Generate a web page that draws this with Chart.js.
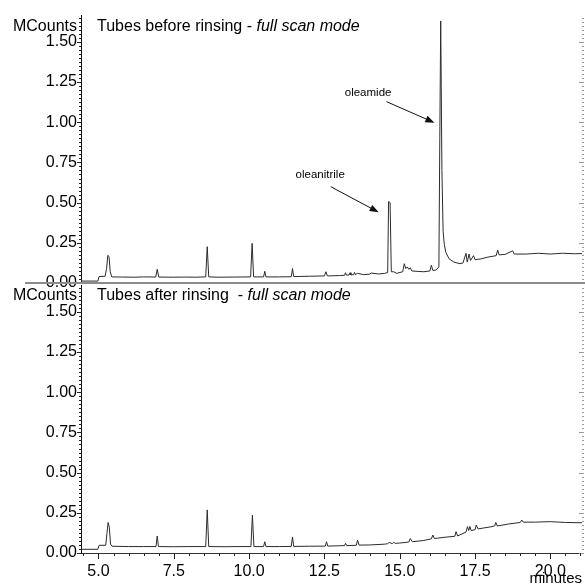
<!DOCTYPE html>
<html>
<head>
<meta charset="utf-8">
<script src="https://cdn.jsdelivr.net/npm/chart.js@4.4.1/dist/chart.umd.min.js"></script>
<style>
  html, body { margin: 0; padding: 0; background: #fff; }
  #wrap { position: relative; width: 585px; height: 585px; overflow: hidden; background: #fff; }
  #wrap canvas { position: absolute; left: 0; }
  #topChart { top: 0; }
  #bottomChart { top: 270px; }
</style>
</head>
<body>
<div id="wrap">
  <canvas id="topChart" width="585" height="300"></canvas>
  <canvas id="bottomChart" width="585" height="315"></canvas>
</div>
<script>
// retention time (minutes) / signal (MCounts)
const beforeTime = [
  4.42, 4.98, 5.02, 5.22, 5.27, 5.31, 5.35, 5.39, 5.44, 5.8,
  6.2, 6.5, 6.9, 6.95, 7.0, 7.5, 7.9, 8.2, 8.56, 8.61,
  8.66, 9.0, 9.5, 10.05, 10.1, 10.15, 10.48, 10.52, 10.56, 11.0,
  11.4, 11.44, 11.48, 12.0, 12.5, 12.55, 12.6, 13.0, 13.17, 13.2,
  13.23, 13.32, 13.35, 13.38, 13.47, 13.5, 13.53, 13.6, 13.8, 14.0,
  14.05, 14.3, 14.5, 14.6, 14.63, 14.68, 14.72, 14.8, 14.9, 15.1,
  15.15, 15.2, 15.25, 15.3, 15.35, 15.4, 15.6, 15.8, 16.0, 16.05,
  16.1, 16.2, 16.3, 16.33, 16.36, 16.4, 16.44, 16.48, 16.53, 16.64,
  16.8, 17.0, 17.1, 17.2, 17.24, 17.3, 17.35, 17.45, 17.5, 17.7,
  17.9, 18.2, 18.25, 18.3, 18.5, 18.75, 18.8, 19.2, 19.6, 20.0,
  20.4, 20.8, 21.05
];
const beforeCounts = [
  0.012, 0.012, 0.040, 0.042, 0.09, 0.172, 0.165, 0.07, 0.038, 0.037,
  0.036, 0.038, 0.037, 0.085, 0.037, 0.036, 0.037, 0.036, 0.038, 0.226,
  0.038, 0.036, 0.037, 0.038, 0.247, 0.038, 0.038, 0.073, 0.038, 0.038,
  0.039, 0.09, 0.04, 0.042, 0.044, 0.07, 0.044, 0.046, 0.048, 0.064,
  0.049, 0.05, 0.064, 0.05, 0.052, 0.066, 0.052, 0.06, 0.052, 0.055,
  0.062, 0.056, 0.06, 0.065, 0.506, 0.50, 0.07, 0.07, 0.06, 0.07,
  0.12, 0.09, 0.10, 0.085, 0.095, 0.075, 0.072, 0.07, 0.075, 0.11,
  0.078, 0.08, 0.10, 0.9, 1.63, 0.7, 0.32, 0.24, 0.19, 0.15,
  0.13, 0.12, 0.125, 0.185, 0.13, 0.18, 0.14, 0.17, 0.145, 0.15,
  0.16, 0.17, 0.205, 0.175, 0.178, 0.2, 0.18, 0.18, 0.185, 0.18,
  0.185, 0.182, 0.183
];

const afterTime = [
  4.42, 4.98, 5.02, 5.24, 5.28, 5.32, 5.36, 5.40, 5.45, 6.0,
  6.5, 6.91, 6.95, 6.99, 7.5, 8.0, 8.56, 8.61, 8.66, 9.2,
  9.6, 10.06, 10.11, 10.16, 10.48, 10.52, 10.56, 11.0, 11.4, 11.44,
  11.48, 12.0, 12.53, 12.57, 12.61, 13.0, 13.17, 13.2, 13.24, 13.56,
  13.6, 13.65, 14.0, 14.5, 14.6, 14.65, 14.75, 14.8, 14.85, 15.0,
  15.3, 15.35, 15.42, 15.8, 16.05, 16.1, 16.15, 16.5, 16.83, 16.87,
  16.92, 17.2, 17.25, 17.29, 17.33, 17.37, 17.5, 17.54, 17.6, 18.0,
  18.15, 18.19, 18.24, 18.6, 19.0, 19.05, 19.1, 19.5, 20.0, 20.5,
  21.05
];
const afterCounts = [
  0.023, 0.023, 0.048, 0.048, 0.12, 0.19, 0.16, 0.055, 0.042, 0.04,
  0.04, 0.04, 0.106, 0.04, 0.039, 0.04, 0.04, 0.268, 0.04, 0.039,
  0.04, 0.04, 0.235, 0.04, 0.04, 0.07, 0.04, 0.04, 0.041, 0.10,
  0.041, 0.042, 0.043, 0.07, 0.043, 0.045, 0.046, 0.06, 0.046, 0.048,
  0.08, 0.049, 0.05, 0.055, 0.058, 0.066, 0.058, 0.066, 0.06, 0.062,
  0.068, 0.09, 0.07, 0.078, 0.088, 0.112, 0.09, 0.098, 0.104, 0.133,
  0.106, 0.13, 0.164, 0.14, 0.165, 0.14, 0.145, 0.174, 0.15, 0.162,
  0.168, 0.19, 0.168, 0.18, 0.19, 0.205, 0.192, 0.192, 0.195, 0.19,
  0.188
];

const yTickValues = [0, 0.25, 0.5, 0.75, 1.0, 1.25, 1.5];
const xTickValues = [5, 7.5, 10, 12.5, 15, 17.5, 20];
const yUnit = 'MCounts';
const xUnit = 'minutes';
const titles = ['Tubes before rinsing - ', 'Tubes after rinsing  - '];
const titleMode = 'full scan mode';
const peakNames = ['oleanitrile', 'oleamide'];

const FONT = 'Arial, "Liberation Sans", sans-serif';
const X_MIN = 4.42, X_MAX = 21.05, Y_MAX = 1.667;

Chart.defaults.font.family = FONT;
Chart.defaults.color = '#000';

const toPoints = (ts, vs) => ts.map((t, i) => ({ x: t, y: vs[i] }));

// ticks, labels, arrows and separator drawn on top of each panel
const panelDecor = {
    id: 'panelDecor',
    afterDraw(chart, args, opts) {
        const { ctx, chartArea: a, scales: { x, y } } = chart;
        ctx.save();
        ctx.lineWidth = 1;

        // left axis: minor every 0.025, major every 0.25
        ctx.strokeStyle = '#222';
        for (let i = 0; i * 0.025 <= Y_MAX + 1e-9; i++) {
            const py = Math.round(y.getPixelForValue(i * 0.025)) + 0.5;
            const len = i % 10 === 0 ? 4 : 2;
            ctx.beginPath(); ctx.moveTo(a.left - len, py); ctx.lineTo(a.left, py); ctx.stroke();
        }
        // right axis: dotted grey ticks
        ctx.strokeStyle = '#9a9a9a';
        for (let i = 0; i * 0.025 <= Y_MAX + 1e-9; i++) {
            const py = Math.round(y.getPixelForValue(i * 0.025)) + 0.5;
            const len = i % 10 === 0 ? 5 : 2;
            ctx.beginPath(); ctx.moveTo(a.right - len + 2, py); ctx.lineTo(a.right + 2, py); ctx.stroke();
        }

        if (opts.xAxis) {
            ctx.strokeStyle = '#222';
            for (let v = 4.5; v <= X_MAX; v += 0.5) {
                const px = Math.round(x.getPixelForValue(v)) + 0.5;
                const major = Math.abs(v / 2.5 - Math.round(v / 2.5)) < 1e-6;
                ctx.beginPath(); ctx.moveTo(px, a.bottom); ctx.lineTo(px, a.bottom + (major ? 6 : 3)); ctx.stroke();
            }
            ctx.font = '15px ' + FONT;
            ctx.fillStyle = '#000';
            ctx.textAlign = 'right';
            ctx.textBaseline = 'middle';
            ctx.fillText(xUnit, 582, a.bottom + 26);
        }
        if (opts.separator) {
            ctx.strokeStyle = '#8c8c8c';
            ctx.lineWidth = 2;
            const py = y.getPixelForValue(0);
            ctx.beginPath(); ctx.moveTo(25, py); ctx.lineTo(chart.width, py); ctx.stroke();
            ctx.lineWidth = 1;
        }

        // unit label and panel title
        ctx.fillStyle = '#000';
        ctx.font = '16px ' + FONT;
        ctx.textBaseline = 'middle';
        ctx.textAlign = 'right';
        ctx.fillText(yUnit, 77, opts.titleY);
        ctx.textAlign = 'left';
        ctx.fillText(opts.title, 97, opts.titleY);
        const w = ctx.measureText(opts.title).width;
        ctx.font = 'italic 16px ' + FONT;
        ctx.fillText(titleMode, 97 + w, opts.titleY);

        // peak annotations
        (opts.notes || []).forEach(n => {
            const lx = x.getPixelForValue(n.label[0]), ly = y.getPixelForValue(n.label[1]);
            ctx.font = '11.5px ' + FONT;
            ctx.textAlign = 'center';
            ctx.fillText(n.text, lx, ly);
            const x0 = x.getPixelForValue(n.from[0]), y0 = y.getPixelForValue(n.from[1]);
            const x1 = x.getPixelForValue(n.to[0]), y1 = y.getPixelForValue(n.to[1]);
            const ang = Math.atan2(y1 - y0, x1 - x0);
            ctx.strokeStyle = '#111';
            ctx.beginPath(); ctx.moveTo(x0, y0); ctx.lineTo(x1 - 6 * Math.cos(ang), y1 - 6 * Math.sin(ang)); ctx.stroke();
            ctx.fillStyle = '#111';
            ctx.beginPath();
            ctx.moveTo(x1, y1);
            ctx.lineTo(x1 - 9 * Math.cos(ang) + 3.5 * Math.sin(ang), y1 - 9 * Math.sin(ang) - 3.5 * Math.cos(ang));
            ctx.lineTo(x1 - 9 * Math.cos(ang) - 3.5 * Math.sin(ang), y1 - 9 * Math.sin(ang) + 3.5 * Math.cos(ang));
            ctx.closePath(); ctx.fill();
            ctx.fillStyle = '#000';
        });
        ctx.restore();
    }
};

function makePanel(canvasId, ts, vs, decor, showX, padding) {
    return new Chart(document.getElementById(canvasId), {
        type: 'line',
        data: {
            datasets: [{
                data: toPoints(ts, vs),
                borderColor: '#2b2b2b',
                borderWidth: 1,
                pointRadius: 0,
                tension: 0,
                fill: false,
            }],
        },
        options: {
            responsive: false,
            animation: false,
            devicePixelRatio: 1,
            layout: { padding },
            plugins: { legend: { display: false }, tooltip: { enabled: false }, panelDecor: decor },
            scales: {
                x: {
                    type: 'linear',
                    min: X_MIN, max: X_MAX,
                    display: showX,
                    grid: { display: false, drawTicks: false },
                    border: { color: '#333', width: 1 },
                    afterBuildTicks: s => { s.ticks = xTickValues.map(v => ({ value: v })); },
                    afterFit: s => {
                        if (!showX) return;
                        s.height = 32; s.paddingLeft = 0; s.paddingRight = 0;
                    },
                    ticks: { font: { size: 16 }, padding: 9, maxRotation: 0, autoSkip: false, callback: v => v.toFixed(1) },
                },
                y: {
                    min: 0, max: Y_MAX,
                    grid: { display: false, drawTicks: false },
                    border: { color: '#111', width: 1 },
                    afterBuildTicks: s => { s.ticks = yTickValues.map(v => ({ value: v })); },
                    afterFit: s => { s.width = 81; s.paddingTop = 0; s.paddingBottom = 0; },
                    ticks: { font: { size: 16 }, padding: 4, autoSkip: false, callback: v => v.toFixed(2) },
                },
            },
        },
        plugins: [panelDecor],
    });
}

makePanel('topChart', beforeTime, beforeCounts, {
    title: titles[0], titleY: 27, separator: true, xAxis: false,
    notes: [
        { text: peakNames[0], label: [12.36, 0.672], from: [12.71, 0.599], to: [14.30, 0.44] },
        { text: peakNames[1], label: [13.95, 1.18], from: [14.56, 1.128], to: [16.15, 0.9975] },
    ],
}, false, { left: 0, right: 3, top: 15, bottom: 17 });

makePanel('bottomChart', afterTime, afterCounts, {
    title: titles[1], titleY: 26, separator: false, xAxis: true,
}, true, { left: 0, right: 3, top: 15, bottom: 0 });
</script>
</body>
</html>
